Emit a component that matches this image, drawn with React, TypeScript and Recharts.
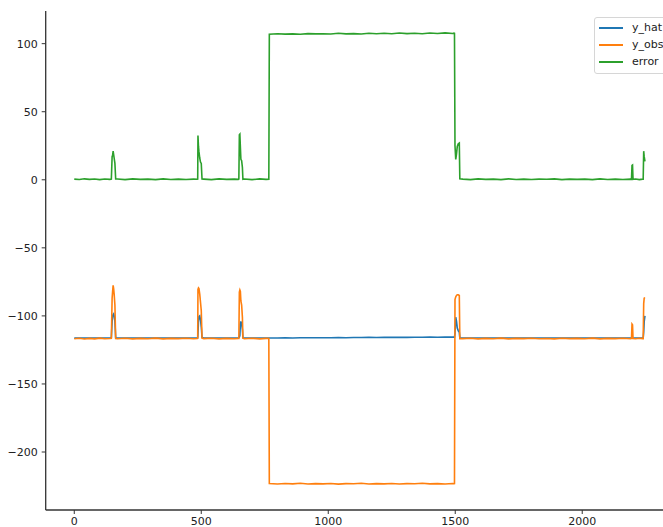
import React from 'react';
import { LineChart, Line, XAxis, YAxis } from 'recharts';

// sample positions (index along the run)
const xs = [
  0, 20, 40, 60, 80, 100, 120, 140,
  146, 149, 151, 153, 155, 157, 160, 163,
  170, 200, 230, 260, 290, 320, 350, 380, 410, 440, 470, 484,
  486, 487, 489, 491, 494, 497, 500, 503,
  510, 540, 570, 600, 630, 646,
  648, 650, 652, 654, 656, 659, 662, 664,
  670, 700, 730, 755, 766,
  768, 800, 830, 860, 890, 920, 950, 980, 1010, 1040, 1070, 1100, 1130, 1160, 1190, 1220, 1250, 1280, 1310, 1340, 1370, 1400, 1430, 1460, 1490, 1495,
  1497, 1499, 1502, 1505, 1508, 1512, 1516, 1518,
  1530, 1560, 1590, 1620, 1650, 1680, 1710, 1740, 1770, 1800, 1830, 1860, 1890, 1920, 1950, 1980, 2010, 2040, 2070, 2100, 2130, 2160, 2190,
  2194, 2196, 2198, 2200,
  2210, 2225, 2238,
  2240, 2242, 2244, 2247,
];

const yHat = [
  -116.3, -116.2, -116.3, -116.2, -116.3, -116.2, -116.2, -116.3,
  -116.0, -104, -100, -99, -98.5, -100, -104, -116.0,
  -116.2, -116.3, -116.2, -116.2, -116.3, -116.2, -116.2, -116.3, -116.2, -116.2, -116.3, -116.2,
  -116.0, -113, -104, -100.5, -100, -103, -108, -115.8,
  -116.2, -116.3, -116.2, -116.2, -116.3, -116.2,
  -116.0, -115.5, -114.5, -106, -104, -106, -110, -116.0,
  -116.2, -116.3, -116.2, -116.2, -116.2,
  -116.2, -116.2, -116.1, -116.2, -116.1, -116.1, -116.0, -116.1, -116.0, -115.9, -116.0, -115.9, -115.9, -115.8, -115.9, -115.8, -115.8, -115.7, -115.8, -115.7, -115.7, -115.6, -115.7, -115.6, -115.6, -115.6,
  -115.6, -113, -101, -104, -109, -111, -112, -116.0,
  -116.2, -116.3, -116.2, -116.2, -116.3, -116.2, -116.2, -116.3, -116.2, -116.2, -116.3, -116.2, -116.2, -116.3, -116.2, -116.2, -116.3, -116.2, -116.2, -116.3, -116.2, -116.2, -116.3,
  -116.2, -116.3, -116.3, -116.2,
  -116.2, -116.3, -116.2,
  -116.2, -112, -104, -100,
];

const yObs = [
  -116.8, -116.4, -117.0, -116.5, -116.9, -116.3, -116.8, -116.6,
  -116.5, -87, -82, -77.5, -80, -84, -92, -116.6,
  -116.8, -116.4, -116.9, -116.5, -116.8, -116.3, -116.9, -116.5, -116.7, -116.4, -116.8, -116.6,
  -116.5, -80.5, -79.5, -80, -84, -90, -96, -116.4,
  -116.7, -116.4, -116.9, -116.5, -116.8, -116.5,
  -116.5, -82.5, -81, -82, -89, -92, -101, -116.4,
  -116.8, -116.4, -116.9, -116.5, -116.6,
  -223.2, -223.5, -223.1, -223.4, -223.0, -223.5, -223.2, -223.4, -223.1, -223.6, -223.2, -223.3, -223.0, -223.5, -223.2, -223.4, -223.1, -223.5, -223.2, -223.3, -223.0, -223.4, -223.2, -223.5, -223.1, -223.3,
  -223.2, -88, -86, -85, -84.5, -84.5, -85, -116.8,
  -116.7, -116.4, -116.9, -116.5, -116.8, -116.3, -116.9, -116.5, -116.7, -116.4, -116.8, -116.6, -116.9, -116.4, -116.7, -116.5, -116.8, -116.3, -116.9, -116.5, -116.7, -116.4, -116.8,
  -116.6, -106, -106.5, -116.6,
  -116.8, -116.4, -116.7,
  -116.7, -91, -87, -86.5,
];

const errorVals = [
  0.5, 0.2, 0.7, 0.3, 0.6, 0.1, 0.6, 0.3,
  0.5, 17, 18, 21, 18.5, 16, 12, 0.6,
  0.6, 0.1, 0.7, 0.3, 0.5, 0.1, 0.7, 0.2, 0.5, 0.2, 0.5, 0.4,
  0.5, 32.5, 24.5, 20.5, 16, 13, 12, 0.6,
  0.5, 0.1, 0.7, 0.3, 0.5, 0.3,
  0.5, 33, 33.5, 24, 15, 14, 9, 0.4,
  0.6, 0.1, 0.7, 0.3, 0.4,
  107.0, 107.3, 107.0, 107.2, 106.9, 107.4, 107.2, 107.3, 107.1, 107.7, 107.2, 107.4, 107.1, 107.7, 107.3, 107.6, 107.3, 107.8, 107.4, 107.6, 107.3, 107.8, 107.5, 107.9, 107.5, 107.7,
  107.6, 25, 15, 19, 24.5, 26.5, 27, 0.8,
  0.5, 0.1, 0.7, 0.3, 0.5, 0.1, 0.7, 0.2, 0.5, 0.2, 0.5, 0.4, 0.7, 0.1, 0.5, 0.3, 0.5, 0.1, 0.7, 0.2, 0.5, 0.2, 0.5,
  0.4, 10.5, 10.8, 0.4,
  0.6, 0.1, 0.5,
  0.5, 21, 17, 13.5,
];

const xTicks = [0, 500, 1000, 1500, 2000];
const yTicks = [-200, -150, -100, -50, 0, 50, 100];

const series = [
  { key: 'y_hat', color: '#1f77b4' },
  { key: 'y_obs', color: '#ff7f0e' },
  { key: 'error', color: '#2ca02c' },
];

const data = xs.map((x, i) => ({
  x,
  y_hat: yHat[i],
  y_obs: yObs[i],
  error: errorVals[i],
}));

const FONT = '"DejaVu Sans", sans-serif';
const AXIS = '#333';
const fmt = (v: number) => String(v).replace('-', '\u2212');

export default function App() {
  return (
    <div style={{ position: 'absolute', left: 0, top: 0, width: 663, height: 527, overflow: 'hidden', background: '#fff' }}>
      <LineChart width={685} height={527} data={data} margin={{ top: 11, right: 10.7, bottom: 0, left: 5.7 }}>
        <XAxis
          dataKey="x"
          type="number"
          domain={[-112.5, 2362.5]}
          allowDataOverflow
          ticks={xTicks}
          height={17}
          tickSize={4}
          tickMargin={3}
          axisLine={{ stroke: AXIS, strokeWidth: 1.3 }}
          tickLine={{ stroke: AXIS, strokeWidth: 1 }}
          tick={{ fill: '#222', fontSize: 11, fontFamily: FONT }}
          interval={0}
        />
        <XAxis
          xAxisId="top"
          orientation="top"
          dataKey="x"
          type="number"
          domain={[-112.5, 2362.5]}
          height={0}
          tick={false}
          tickLine={false}
          axisLine={{ stroke: AXIS, strokeWidth: 1.3 }}
        />
        <YAxis
          type="number"
          domain={[-242.6, 124]}
          allowDataOverflow
          ticks={yTicks}
          width={40}
          tickSize={4}
          tickMargin={4}
          tickFormatter={fmt}
          axisLine={{ stroke: AXIS, strokeWidth: 1.3 }}
          tickLine={{ stroke: AXIS, strokeWidth: 1 }}
          tick={{ fill: '#222', fontSize: 11, fontFamily: FONT }}
          interval={0}
        />
        {series.map((s) => (
          <Line
            key={s.key}
            type="linear"
            dataKey={s.key}
            name={s.key}
            stroke={s.color}
            strokeWidth={1.6}
            dot={false}
            isAnimationActive={false}
          />
        ))}
      </LineChart>
      <div
        style={{
          position: 'absolute',
          left: 594,
          top: 17,
          border: '1px solid #d6d6d6',
          borderRadius: 3,
          background: 'rgba(255,255,255,0.85)',
          padding: '1px 8px 3px 4px',
          fontFamily: FONT,
          fontSize: 11,
          color: '#222',
          whiteSpace: 'nowrap',
        }}
      >
        {series.map((s) => (
          <div key={s.key} style={{ height: 17, display: 'flex', alignItems: 'center' }}>
            <span style={{ display: 'inline-block', width: 24, height: 2, background: s.color, marginRight: 9 }} />
            <span>{s.key}</span>
          </div>
        ))}
      </div>
    </div>
  );
}
